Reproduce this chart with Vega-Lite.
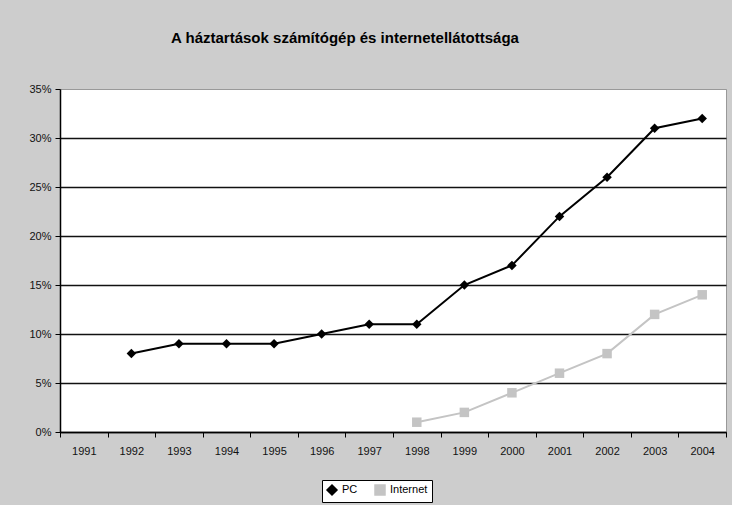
{
  "$schema": "https://vega.github.io/schema/vega-lite/v6.json",
  "width": 666,
  "height": 343,
  "autosize": {"type": "none"},
  "padding": {"left": 60, "top": 89, "right": 6, "bottom": 73},
  "background": "#cdcdcd",
  "title": {
    "text": "A háztartások számítógép és internetellátottsága",
    "font": "Liberation Sans",
    "fontSize": 15,
    "fontWeight": "bold",
    "color": "#000000",
    "anchor": "middle",
    "dx": -48,
    "offset": 37
  },
  "config": {
    "view": {"fill": "#ffffff", "stroke": "#999999", "strokeWidth": 1},
    "axis": {"labelFont": "Liberation Sans", "labelFontSize": 11, "labelColor": "#111111", "titleFont": "Liberation Sans"}
  },
  "data": {
    "values": [
      {"year": "1992", "series": "PC", "value": 8},
      {"year": "1993", "series": "PC", "value": 9},
      {"year": "1994", "series": "PC", "value": 9},
      {"year": "1995", "series": "PC", "value": 9},
      {"year": "1996", "series": "PC", "value": 10},
      {"year": "1997", "series": "PC", "value": 11},
      {"year": "1998", "series": "PC", "value": 11},
      {"year": "1999", "series": "PC", "value": 15},
      {"year": "2000", "series": "PC", "value": 17},
      {"year": "2001", "series": "PC", "value": 22},
      {"year": "2002", "series": "PC", "value": 26},
      {"year": "2003", "series": "PC", "value": 31},
      {"year": "2004", "series": "PC", "value": 32},
      {"year": "1998", "series": "Internet", "value": 1},
      {"year": "1999", "series": "Internet", "value": 2},
      {"year": "2000", "series": "Internet", "value": 4},
      {"year": "2001", "series": "Internet", "value": 6},
      {"year": "2002", "series": "Internet", "value": 8},
      {"year": "2003", "series": "Internet", "value": 12},
      {"year": "2004", "series": "Internet", "value": 14}
    ]
  },
  "encoding": {
    "x": {
      "field": "year",
      "type": "ordinal",
      "scale": {"type": "band", "domain": ["1991","1992","1993","1994","1995","1996","1997","1998","1999","2000","2001","2002","2003","2004"], "paddingInner": 0, "paddingOuter": 0},
      "axis": {"title": null, "labelAngle": 0, "tickBand": "extent", "domainColor": "#000000", "domainWidth": 1.5, "tickColor": "#000000", "tickSize": 5, "labelPadding": 8, "grid": false}
    },
    "y": {
      "field": "value",
      "type": "quantitative",
      "scale": {"domain": [0, 35], "nice": false},
      "axis": {
        "title": null,
        "values": [0, 5, 10, 15, 20, 25, 30, 35],
        "labelExpr": "datum.value + '%'",
        "domainColor": "#000000",
        "domainWidth": 1.5,
        "tickColor": "#000000",
        "tickSize": 5,
        "labelPadding": 4,
        "grid": true,
        "gridColor": {"condition": {"test": "datum.value === 35", "value": "#999999"}, "value": "#111111"},
        "gridWidth": {"condition": {"test": "datum.value === 35", "value": 1}, "value": 1.5},
        "gridDash": {"condition": {"test": "datum.value === 35", "value": [2, 2]}, "value": []}
      }
    },
    "color": {
      "field": "series",
      "type": "nominal",
      "scale": {"domain": ["PC", "Internet"], "range": ["#000000", "#c4c4c4"]},
      "legend": {
        "title": null,
        "orient": "none",
        "legendX": 262,
        "legendY": 391,
        "direction": "horizontal",
        "strokeColor": "#000000",
        "fillColor": "#ffffff",
        "padding": 4,
        "labelFont": "Liberation Sans",
        "labelFontSize": 11,
        "columnPadding": 14
      }
    },
    "shape": {
      "field": "series",
      "type": "nominal",
      "scale": {"domain": ["PC", "Internet"], "range": ["diamond", "square"]},
      "legend": null
    }
  },
  "layer": [
    {"mark": {"type": "line", "strokeWidth": 2}, "encoding": {"shape": null}},
    {"mark": {"type": "point", "filled": true, "size": 90, "opacity": 1}}
  ]
}
